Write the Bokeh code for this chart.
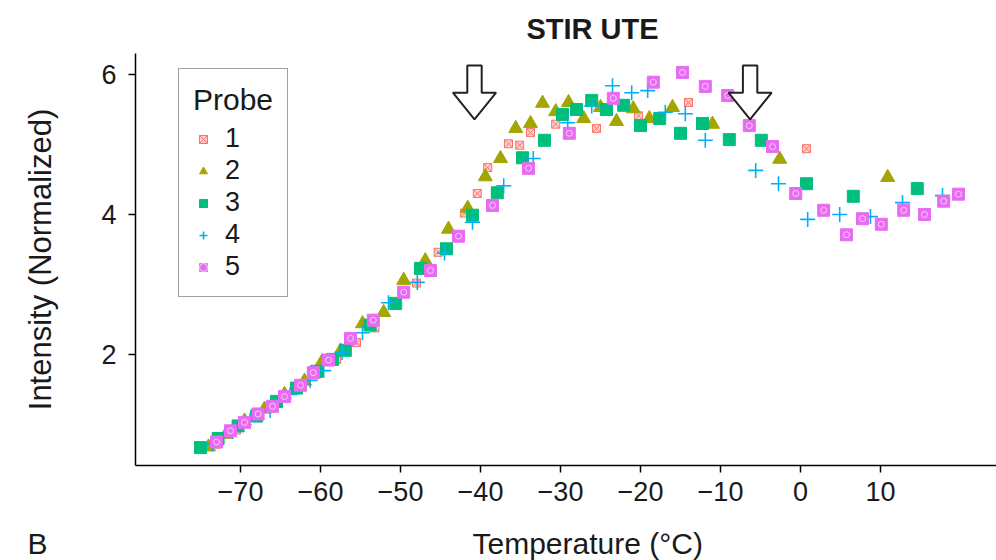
from bokeh.plotting import figure
from bokeh.models import Range1d, Legend, LegendItem, Title, FixedTicker
from bokeh.embed import file_html
from bokeh.resources import INLINE

FONT = "Liberation Sans"

# ---------------- data ----------------
x_ticks = [-70, -60, -50, -40, -30, -20, -10, 0, 10]
x_tick_labels = ["\u221270", "\u221260", "\u221250", "\u221240", "\u221230",
                 "\u221220", "\u221210", "0", "10"]
y_ticks = [2, 4, 6]

probe_labels = ["1", "2", "3", "4", "5"]

p1_x = [-73.0, -70.5, -68.0, -65.5, -63.0, -60.5, -58.0, -55.5, -53.2, -50.5, -48.0, -45.3, -42.0,
        -40.4, -39.1, -36.5, -35.1, -33.75, -30.6, -25.5, -20.25, -14.0, 0.75]
p1_y = [0.72, 0.92, 1.10, 1.30, 1.50, 1.72, 1.93, 2.17, 2.38, 2.70, 3.02, 3.46, 4.02,
        4.30, 4.67, 5.01, 4.99, 5.17, 5.29, 5.23, 5.41, 5.60, 4.94]

p2_x = [-74.0, -71.8, -69.5, -67.0, -64.5, -62.0, -59.8, -57.5, -54.75, -52.1, -49.6, -46.9, -44.0, -41.6,
        -39.4, -37.5, -35.6, -33.75, -32.25, -30.6, -29.0, -27.1, -25.0, -23.0, -20.9, -18.9, -16.0,
        -11.0, -2.6, 10.9]
p2_y = [0.68, 0.86, 1.05, 1.22, 1.43, 1.62, 1.90, 2.05, 2.44, 2.60, 3.06, 3.34, 3.79, 4.09,
        4.54, 4.80, 5.23, 5.30, 5.59, 5.47, 5.60, 5.37, 5.53, 5.33, 5.51, 5.37, 5.53,
        5.29, 4.79, 4.53]

p3_x = [-75.0, -72.8, -70.3, -68.0, -65.5, -63.0, -60.5, -58.5, -56.9, -53.8, -50.6, -47.5, -44.25, -41.0,
        -37.9, -34.75, -32.0, -29.75, -28.0, -26.1, -24.25, -22.1, -20.0, -17.6, -15.0, -12.25,
        -8.9, -4.9, 0.75, 6.6, 14.6]
p3_y = [0.67, 0.80, 0.98, 1.12, 1.33, 1.52, 1.76, 1.93, 2.06, 2.42, 2.73, 3.23, 3.51, 3.99,
        4.31, 4.81, 5.06, 5.43, 5.50, 5.63, 5.50, 5.56, 5.27, 5.37, 5.16, 5.30,
        5.07, 5.06, 4.44, 4.26, 4.37]

p4_x = [-73.5, -71.0, -68.8, -66.3, -63.8, -61.3, -59.6, -57.3, -54.75, -51.5, -47.9, -44.5, -41.0,
        -37.1, -33.4, -29.1, -26.1, -23.5, -21.1, -19.1, -16.9, -14.4, -11.9, -5.6, -2.75,
        0.9, 4.9, 8.75, 12.75, 17.75]
p4_y = [0.72, 0.90, 1.06, 1.20, 1.43, 1.63, 1.77, 2.03, 2.31, 2.74, 3.03, 3.45, 3.89,
        4.41, 4.80, 5.31, 5.55, 5.84, 5.74, 5.77, 5.46, 5.44, 5.06, 4.63, 4.44,
        3.93, 4.00, 3.97, 4.17, 4.27]

p5_x = [-73.0, -71.25, -69.5, -67.8, -66.0, -64.5, -62.5, -60.9, -59.0, -56.25, -53.4, -49.6, -46.25, -42.75,
        -38.5, -34.0, -28.9, -23.4, -18.4, -14.75, -11.9, -9.1, -6.4, -3.5, -0.6,
        2.9, 5.75, 7.75, 10.1, 12.9, 15.5, 17.9, 19.75]
p5_y = [0.75, 0.91, 1.03, 1.15, 1.26, 1.40, 1.56, 1.74, 1.92, 2.23, 2.49, 2.89, 3.20, 3.69,
        4.13, 4.66, 5.16, 5.66, 5.89, 6.03, 5.83, 5.70, 5.27, 4.97, 4.30,
        4.06, 3.71, 3.94, 3.86, 4.06, 4.00, 4.19, 4.29]

# arrows marking transitions (temperature, top, neck, tip)
arrow_x = [-40.75, -6.3]
arrow_top = 6.13
arrow_neck = 5.74
arrow_tip = 5.36

colors = ["#F8766D", "#A3A500", "#00BF7D", "#00B0F6", "#E76BF3"]

# ---------------- figure ----------------
p = figure(width=996, height=560, output_backend="svg", toolbar_location=None,
           x_range=Range1d(-83.125, 24.5), y_range=Range1d(0.414, 6.3),
           min_border_left=135, min_border_right=0, min_border_top=53, min_border_bottom=95)
p.outline_line_color = None
p.grid.visible = False
p.background_fill_color = "white"
p.border_fill_color = "white"

for ax in (p.xaxis[0], p.yaxis[0]):
    ax.axis_line_color = "black"
    ax.axis_line_width = 1.5
    ax.major_tick_line_color = "black"
    ax.major_tick_line_width = 1.5
    ax.major_tick_out = 7
    ax.major_tick_in = 0
    ax.minor_tick_line_color = None
    ax.major_label_text_font = FONT
    ax.major_label_text_font_size = "27px"
    ax.major_label_text_color = "#1a1a1a"
    ax.axis_label_text_font = FONT
    ax.axis_label_text_font_style = "normal"
    ax.axis_label_text_color = "#1a1a1a"

p.xaxis.ticker = FixedTicker(ticks=x_ticks)
p.xaxis.major_label_overrides = {t: lab for t, lab in zip(x_ticks, x_tick_labels)}
p.xaxis.major_label_standoff = 9
# blank axis label only reserves the row in which the x title and panel letter sit
p.xaxis.axis_label = " "
p.xaxis.axis_label_text_font_size = "30px"
p.xaxis.axis_label_standoff = 5

p.yaxis.ticker = FixedTicker(ticks=y_ticks)
p.yaxis.major_label_standoff = 12
p.yaxis.axis_label = "Intensity (Normalized)"
p.yaxis.axis_label_text_font_size = "31px"
p.yaxis.axis_label_standoff = 40

r1 = p.scatter(p1_x, p1_y, marker="square_x", size=8, fill_color=colors[0], fill_alpha=0.35,
               line_color=colors[0], line_width=1)
r2 = p.scatter(p2_x, p2_y, marker="triangle", size=14, fill_color=colors[1], line_color=colors[1])
r3 = p.scatter(p3_x, p3_y, marker="square", size=12, fill_color=colors[2], line_color=colors[2])
r4 = p.scatter(p4_x, p4_y, marker="cross", size=15, line_color=colors[3], line_width=1.6)
r5 = p.scatter(p5_x, p5_y, marker="square", size=12, fill_color=colors[4], line_color=colors[4])
r5b = p.scatter(p5_x, p5_y, marker="circle", size=6, fill_color=None, line_color="#F7D2FA", line_width=1)

# arrows
SW, HW = 0.9, 2.7
axs, ays = [], []
for a in arrow_x:
    axs.append([a - SW, a + SW, a + SW, a + HW, a, a - HW, a - SW])
    ays.append([arrow_top, arrow_top, arrow_neck, arrow_neck, arrow_tip, arrow_neck, arrow_neck])
p.patches(axs, ays, fill_color="white", line_color="#222222", line_width=2)

legend = Legend(items=[LegendItem(label=probe_labels[0], renderers=[r1]),
                       LegendItem(label=probe_labels[1], renderers=[r2]),
                       LegendItem(label=probe_labels[2], renderers=[r3]),
                       LegendItem(label=probe_labels[3], renderers=[r4]),
                       LegendItem(label=probe_labels[4], renderers=[r5, r5b])],
                title="Probe", location=(43, 168), margin=0, padding=14, spacing=1,
                glyph_width=20, glyph_height=20, label_standoff=12, label_height=28,
                title_standoff=6,
                border_line_color="#444444", border_line_width=1.5,
                background_fill_color="white", background_fill_alpha=1.0)
legend.title_text_font = FONT
legend.title_text_font_size = "30px"
legend.title_text_font_style = "normal"
legend.title_text_color = "#1a1a1a"
legend.label_text_font = FONT
legend.label_text_font_size = "27px"
legend.label_text_color = "#1a1a1a"
p.add_layout(legend)

# chart title (above the frame)
p.add_layout(Title(text="STIR UTE", align="left", offset=391, standoff=18,
                   text_font=FONT, text_font_size="29px", text_font_style="bold",
                   text_color="#1a1a1a"), "above")
# x-axis title and panel letter on the same row below the tick labels
p.add_layout(Title(text="Temperature (\u00b0C)", align="left", offset=337, standoff=-36,
                   vertical_align="top", text_font=FONT, text_font_size="30px",
                   text_font_style="normal", text_color="#1a1a1a"), "below")
p.add_layout(Title(text="B", align="left", offset=-108, standoff=-36, vertical_align="top",
                   text_font=FONT, text_font_size="30px", text_font_style="normal",
                   text_color="#1a1a1a"), "below")

open("out.html", "w").write(file_html(p, INLINE))
